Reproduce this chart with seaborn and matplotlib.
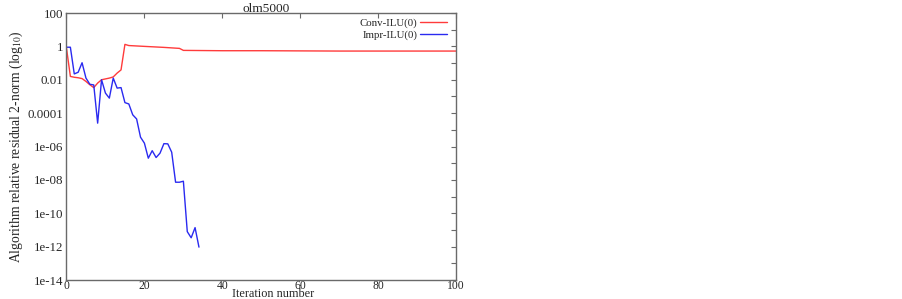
import numpy as np
import pandas as pd
import matplotlib
matplotlib.use("Agg")
import matplotlib.pyplot as plt
import seaborn as sns
from matplotlib.ticker import FixedLocator, NullFormatter

# ---- data (log10 of residual) ----
conv_iter = [0, 1, 2, 3, 4, 5, 6, 7, 8, 9, 10, 11, 12, 13, 14, 15, 16, 20, 25, 29, 30, 40, 50, 60, 70, 80, 90, 100]
conv_log = [-0.1, -1.8, -1.85, -1.88, -1.93, -2.1, -2.3, -2.47, -2.2, -2.0, -1.95, -1.9, -1.83, -1.6, -1.41,
            0.12, 0.05, 0.0, -0.06, -0.12, -0.24, -0.26, -0.26, -0.27, -0.28, -0.28, -0.28, -0.28]

impr_iter = list(range(35))
impr_log = [-0.05, -0.05, -1.65, -1.55, -0.98, -1.9, -2.27, -2.31, -4.6, -2.0, -2.8, -3.1, -1.9, -2.5, -2.47,
            -3.37, -3.45, -4.1, -4.35, -5.44, -5.8, -6.7, -6.25, -6.66, -6.4, -5.83, -5.84, -6.34, -8.14,
            -8.14, -8.08, -11.1, -11.47, -10.86, -12.03]

series_names = ["Conv-ILU(0)", "Impr-ILU(0)"]
series_colors = ["#ff3b3b", "#2a2af0"]

ytick_values = [1e2, 1, 1e-2, 1e-4, 1e-6, 1e-8, 1e-10, 1e-12, 1e-14]
ytick_labels = ["100", "1", "0.01", "0.0001", "1e-06", "1e-08", "1e-10", "1e-12", "1e-14"]
yminor_values = [1e1, 1e-1, 1e-3, 1e-5, 1e-7, 1e-9, 1e-11, 1e-13]
xtick_values = [0, 20, 40, 60, 80, 100]

title = "olm5000"
xlabel = "Iteration number"
ylabel = r"Algorithm relative residual 2-norm (log$_{10}$)"

df = pd.concat([
    pd.DataFrame({"iter": conv_iter, "res": np.power(10.0, conv_log), "method": series_names[0]}),
    pd.DataFrame({"iter": impr_iter, "res": np.power(10.0, impr_log), "method": series_names[1]}),
], ignore_index=True)

sns.set_theme(style="white")
plt.rcParams["font.family"] = ["Liberation Serif", "DejaVu Serif"]
plt.rcParams["mathtext.fontset"] = "stix"

fig = plt.figure(figsize=(9.02, 2.99), dpi=100)
ax = fig.add_axes([0.0737, 0.0635, 0.432, 0.893])

sns.lineplot(data=df, x="iter", y="res", hue="method", palette=series_colors,
             hue_order=series_names, ax=ax, linewidth=1.0, estimator=None, sort=False)

ax.set_yscale("log")
ax.set_xlim(0, 100)
ax.set_ylim(1e-14, 1e2)
ax.yaxis.set_major_locator(FixedLocator(ytick_values))
ax.set_yticklabels(ytick_labels)
ax.yaxis.set_minor_locator(FixedLocator(yminor_values))
ax.yaxis.set_minor_formatter(NullFormatter())
ax.set_xticks(xtick_values)
ax.set_xticklabels([str(v) for v in xtick_values])

spine_color = "#6a6a6a"
for s in ax.spines.values():
    s.set_color(spine_color)
    s.set_linewidth(1.0)
ax.tick_params(which="both", direction="in", top=True, right=True, length=3.5, width=0.8,
               color=spine_color, labelsize=9.3, pad=2)
ax.tick_params(axis="x", which="both", pad=0, labelsize=8.4)
ax.tick_params(which="minor", length=3.5)

ax.set_title(title, fontsize=9.6, pad=1, x=0.512)
ax.set_xlabel(xlabel, fontsize=8.8, va="baseline")
ax.xaxis.set_label_coords(0.53, -0.062)
ax.set_ylabel(ylabel, fontsize=9.8, labelpad=2)

leg = ax.legend(loc="upper right", frameon=False, markerfirst=False, fontsize=7.8,
                handlelength=2.5, handletextpad=0.2, labelspacing=0.15,
                borderaxespad=0.1, bbox_to_anchor=(0.99, 1.0))
for h in leg.get_lines():
    h.set_linewidth(1.0)

fig.savefig("out.png", dpi=100)
